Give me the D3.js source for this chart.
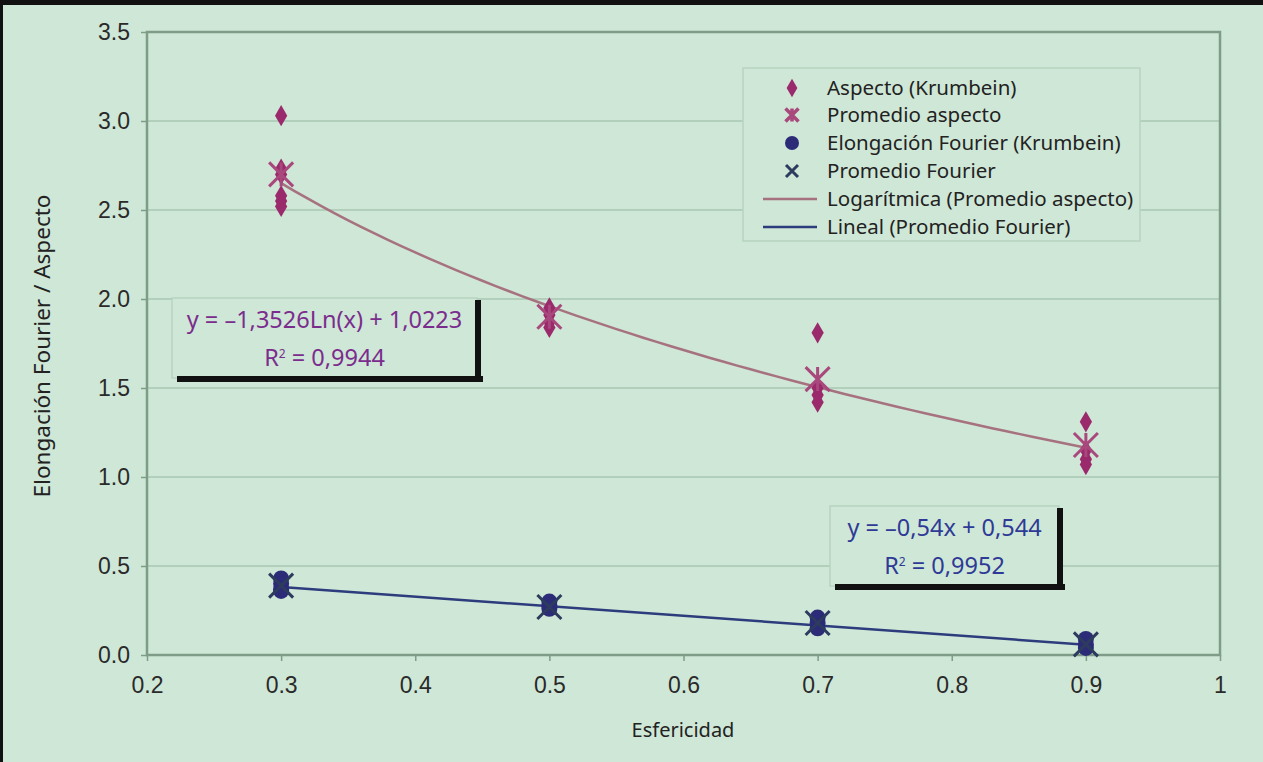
<!DOCTYPE html>
<html><head><meta charset="utf-8">
<script src="https://cdn.jsdelivr.net/npm/d3@7"></script>
<style>
html,body{margin:0;padding:0;background:#cfe7d6;}
svg{display:block;}
</style></head>
<body>
<svg id="chart" width="1263" height="762"></svg>
<script>
// ---- data ----
const xCategories = [0.3, 0.5, 0.7, 0.9];
const aspecto = [
  [3.03, 2.73, 2.70, 2.58, 2.55, 2.52],
  [1.95, 1.91, 1.87, 1.84],
  [1.81, 1.50, 1.46, 1.42],
  [1.31, 1.15, 1.10, 1.07]
];
const promedioAspecto = [2.70, 1.90, 1.55, 1.18];
const fourier = [
  [0.43, 0.40, 0.37, 0.36],
  [0.30, 0.28, 0.26],
  [0.21, 0.18, 0.15],
  [0.09, 0.06, 0.04]
];
const promedioFourier = [0.39, 0.27, 0.18, 0.06];
const logFitCoef = [-1.3526, 1.0223];   // y = a*ln(x) + b
const linFitCoef = [-0.54, 0.544];      // y = a*x + b
const xTicks = [0.2, 0.3, 0.4, 0.5, 0.6, 0.7, 0.8, 0.9, 1];
const yTicks = [0.0, 0.5, 1.0, 1.5, 2.0, 2.5, 3.0, 3.5];
const legendLabels = ["Aspecto (Krumbein)", "Promedio aspecto", "Elongación Fourier (Krumbein)", "Promedio Fourier", "Logarítmica (Promedio aspecto)", "Lineal (Promedio Fourier)"];
const eqLog = ["y = –1,3526Ln(x) + 1,0223", "0,9944"];
const eqLin = ["y = –0,54x + 0,544", "0,9952"];

// ---- styles ----
const C = {
  bg: "#cfe7d6", grid: "#a9c7b2", frame: "#7e9c88",
  diamond: "#9a2a6c", star: "#a8487c", circle: "#2b2b78", xmark: "#2d3b5e",
  logLine: "#a7727f", linLine: "#2c3c7c", eqLog: "#7b2d8e", eqLin: "#2e3a96"
};
const tickFont = "'Liberation Sans', Arial, sans-serif";
const textFont = "'Noto Sans', 'DejaVu Sans', sans-serif";

const svg = d3.select("#chart");
svg.append("rect").attr("width", 1263).attr("height", 762).attr("fill", C.bg);
svg.append("rect").attr("x", 0).attr("y", 0).attr("width", 1263).attr("height", 5).attr("fill", "#111");
svg.append("rect").attr("x", 0).attr("y", 0).attr("width", 3).attr("height", 762).attr("fill", "#111");

const L = 147, R = 1220, T = 32, B = 655;
const x = d3.scaleLinear().domain([0.2, 1]).range([L, R]);
const y = d3.scaleLinear().domain([0, 3.5]).range([B, T]);

// gridlines
svg.append("g").selectAll("line").data(yTicks.filter(d => d > 0 && d < 3.5)).join("line")
  .attr("x1", L).attr("x2", R).attr("y1", d => y(d)).attr("y2", d => y(d))
  .attr("stroke", C.grid).attr("stroke-width", 1.5);

// axes
const yAxis = d3.axisLeft(y).tickValues(yTicks).tickFormat(d3.format(".1f")).tickSize(6).tickPadding(11);
const gy = svg.append("g").attr("transform", `translate(${L},0)`).call(yAxis);
const xAxis = d3.axisBottom(x).tickValues(xTicks).tickFormat(d => d === 1 ? "1" : d3.format(".1f")(d)).tickSize(6).tickPadding(16);
const gx = svg.append("g").attr("transform", `translate(0,${B})`).call(xAxis);
[gx, gy].forEach(g => {
  g.attr("font-size", 23).attr("font-family", tickFont);
  g.select(".domain").remove();
  g.selectAll(".tick line").attr("stroke", C.frame).attr("stroke-width", 1.5);
  g.selectAll(".tick text").attr("fill", "#2a2a2a").attr("font-size", 23);
});

// plot frame
svg.append("rect").attr("x", L).attr("y", T).attr("width", R - L).attr("height", B - T)
  .attr("fill", "none").attr("stroke", C.frame).attr("stroke-width", 2.5);

// axis titles
svg.append("text").attr("x", 683).attr("y", 737).attr("text-anchor", "middle")
  .style("font-family", textFont).style("font-size", "20px").attr("fill", "#222").text("Esfericidad");
svg.append("text").attr("transform", `translate(50,346) rotate(-90)`).attr("text-anchor", "middle")
  .style("font-family", textFont).style("font-size", "22.5px").attr("fill", "#222").text("Elongación Fourier / Aspecto");

// trend lines
const xs = d3.range(0, 61).map(i => xCategories[0] + i * (xCategories[3] - xCategories[0]) / 60);
const line = d3.line().x(d => x(d[0])).y(d => y(d[1]));
svg.append("path").datum(xs.map(v => [v, logFitCoef[0] * Math.log(v) + logFitCoef[1]]))
  .attr("d", line).attr("fill", "none").attr("stroke", C.logLine).attr("stroke-width", 2.5);
svg.append("path").datum([xCategories[0], xCategories[3]].map(v => [v, linFitCoef[0] * v + linFitCoef[1]]))
  .attr("d", line).attr("fill", "none").attr("stroke", C.linLine).attr("stroke-width", 2.5);

// marker helpers
const diamond = d3.symbol().type(d3.symbolDiamond).size(130);
function drawStar(g, cx, cy, s, color, w) {
  const p = `M${cx - s},${cy - s}L${cx + s},${cy + s}M${cx - s},${cy + s}L${cx + s},${cy - s}M${cx},${cy - s}L${cx},${cy + s}`;
  g.append("path").attr("d", p).attr("stroke", color).attr("stroke-width", w || 3).attr("fill", "none");
}
function drawX(g, cx, cy, s, color, w) {
  const p = `M${cx - s},${cy - s}L${cx + s},${cy + s}M${cx - s},${cy + s}L${cx + s},${cy - s}`;
  g.append("path").attr("d", p).attr("stroke", color).attr("stroke-width", w || 3).attr("fill", "none");
}

const marks = svg.append("g");
aspecto.forEach((vals, i) => vals.forEach(v => {
  marks.append("path").attr("d", diamond).attr("transform", `translate(${x(xCategories[i])},${y(v)})`).attr("fill", C.diamond);
}));
promedioAspecto.forEach((v, i) => drawStar(marks, x(xCategories[i]), y(v), 12, C.star));
fourier.forEach((vals, i) => vals.forEach(v => {
  marks.append("circle").attr("cx", x(xCategories[i])).attr("cy", y(v)).attr("r", 8).attr("fill", C.circle);
}));
promedioFourier.forEach((v, i) => drawX(marks, x(xCategories[i]), y(v), 12, C.xmark));

// legend
const lg = svg.append("g");
lg.append("rect").attr("x", 743).attr("y", 68).attr("width", 397).attr("height", 173)
  .attr("fill", C.bg).attr("stroke", "#b9d3c1").attr("stroke-width", 1.5);
const ly = [88, 115, 143, 171, 199, 227];
const mx = 792;
lg.append("path").attr("d", d3.symbol().type(d3.symbolDiamond).size(100)).attr("transform", `translate(${mx},${ly[0]})`).attr("fill", C.diamond);
drawStar(lg, mx, ly[1], 6.5, C.star, 3.5);
lg.append("circle").attr("cx", mx).attr("cy", ly[2]).attr("r", 7).attr("fill", C.circle);
drawX(lg, mx, ly[3], 6, C.xmark, 3);
lg.append("line").attr("x1", 763).attr("x2", 817).attr("y1", ly[4]).attr("y2", ly[4]).attr("stroke", C.logLine).attr("stroke-width", 2.5);
lg.append("line").attr("x1", 763).attr("x2", 817).attr("y1", ly[5]).attr("y2", ly[5]).attr("stroke", C.linLine).attr("stroke-width", 2.5);
lg.selectAll("text.lt").data(legendLabels).join("text").attr("class", "lt")
  .attr("x", 827).attr("y", (d, i) => ly[i]).attr("dy", "0.35em")
  .style("font-family", textFont).style("font-size", "20.5px").attr("fill", "#222").text(d => d);

// equation boxes
function eqBox(bx, by, bw, bh, lines, color) {
  const g = svg.append("g");
  g.append("rect").attr("x", bx).attr("y", by).attr("width", bw).attr("height", bh)
    .attr("fill", C.bg).attr("stroke", "#b9d3c1").attr("stroke-width", 1.5);
  g.append("rect").attr("x", bx + bw - 2).attr("y", by + 2).attr("width", 6).attr("height", bh + 2).attr("fill", "#111");
  g.append("rect").attr("x", bx + 5).attr("y", by + bh - 2).attr("width", bw + 1).attr("height", 6).attr("fill", "#111");
  const cx = bx + bw / 2;
  g.append("text").attr("x", cx).attr("y", by + 22).attr("dy", "0.35em").attr("text-anchor", "middle")
    .style("font-family", textFont).style("font-size", "23.5px").attr("fill", color).text(lines[0]);
  const t = g.append("text").attr("x", cx).attr("y", by + 60).attr("dy", "0.35em").attr("text-anchor", "middle")
    .style("font-family", textFont).style("font-size", "23.5px").attr("fill", color);
  t.append("tspan").text("R");
  t.append("tspan").attr("baseline-shift", "super").style("font-size", "12px").text("2");
  t.append("tspan").text(" = " + lines[1]);
}
eqBox(172, 298, 305, 80, eqLog, C.eqLog);
eqBox(830, 506, 229, 80, eqLin, C.eqLin);
</script>
</body></html>
